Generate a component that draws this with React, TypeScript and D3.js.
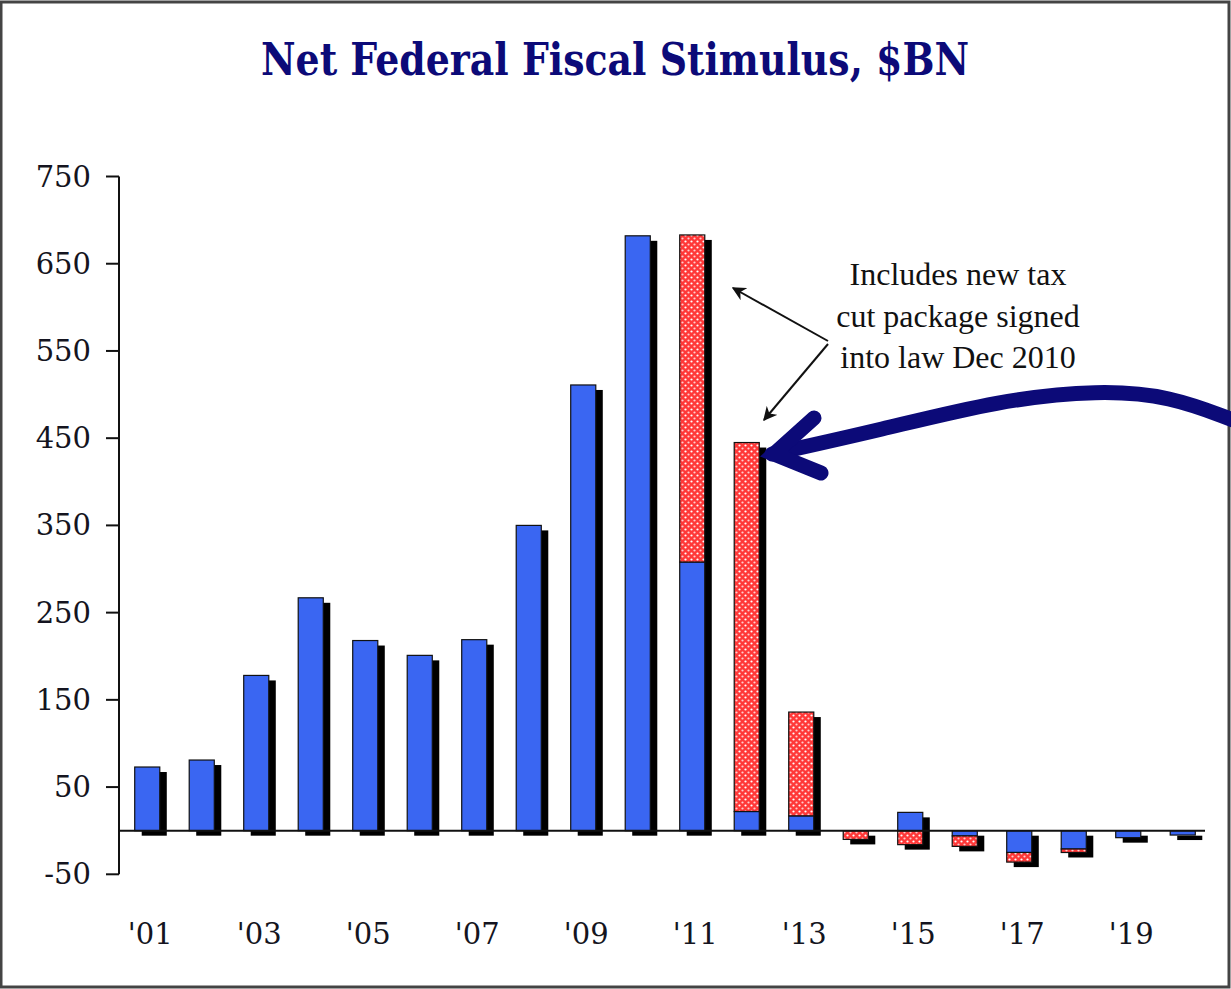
import React from "react";
import * as d3 from "d3";

const years = ["2001","2002","2003","2004","2005","2006","2007","2008","2009","2010","2011","2012","2013","2014","2015","2016","2017","2018","2019","2020"];
const baseStimulus = [73, 81, 178, 267, 218, 201, 219, 350, 511, 682, 308, 22, 17, 0, 21, -6, -25, -21, -8, -5];
const taxCutPackage = [0, 0, 0, 0, 0, 0, 0, 0, 0, 0, 375, 423, 119, -10, -16, -12, -11, -4, 0, 0];
const yTicks = [750, 650, 550, 450, 350, 250, 150, 50, -50];
const xLabelYears = ["2001","2003","2005","2007","2009","2011","2013","2015","2017","2019"];
const title = "Net Federal Fiscal Stimulus, $BN";
const noteLines = ["Includes new tax", "cut package signed", "into law Dec 2010"];

const W = 1231, H = 989;
const BLUE = "#3a66f2";
const RED = "#ff3838";
const NAVY = "#0c0a78";

export default function App() {
  const y = d3.scaleLinear().domain([-50, 750]).range([874.3, 176.5]);
  const x = d3.scaleBand<string>().domain(years).range([120, 1210]).paddingInner(0.54).paddingOuter(0.27);
  const bw = x.bandwidth();
  const sdx = 7, sdy = 5;

  const segs: { key: string; x: number; y0: number; y1: number; red: boolean }[] = [];
  const shadows: { key: string; x: number; top: number; bot: number }[] = [];
  years.forEach((yr, i) => {
    const b = baseStimulus[i];
    const t = taxCutPackage[i];
    let pos = 0, neg = 0;
    const add = (v: number, red: boolean, k: string) => {
      if (v === 0) return;
      if (v > 0) { segs.push({ key: k, x: x(yr)!, y0: pos, y1: pos + v, red }); pos += v; }
      else { segs.push({ key: k, x: x(yr)!, y0: neg, y1: neg + v, red }); neg += v; }
    };
    add(b, false, yr + "b");
    add(t, true, yr + "t");
    shadows.push({ key: yr, x: x(yr)!, top: pos, bot: neg });
  });

  const bigCurve = d3.line<[number, number]>().curve(d3.curveBasis)([
    [1233, 420], [1170, 396], [1100, 390], [1000, 400], [880, 430], [772, 454],
  ]) as string;

  return (
    <svg width={W} height={H} style={{ position: "absolute", left: 0, top: 0, background: "#fff" }}
      fontFamily="'DejaVu Serif', serif">
      <defs>
        <pattern id="whiteDots" width="6" height="6" patternUnits="userSpaceOnUse">
          <circle cx="1.5" cy="1.5" r="1.1" fill="#ffffff" />
          <circle cx="4.5" cy="4.5" r="1.1" fill="#ffffff" fillOpacity="0.75" />
        </pattern>
        <marker id="thinArrow" viewBox="0 0 10 10" refX="9" refY="5" markerWidth="7" markerHeight="7" orient="auto-start-reverse" markerUnits="strokeWidth">
          <path d="M0,0 L10,5 L0,10 L3,5 Z" fill="#111" />
        </marker>
      </defs>
      <rect x={1} y={2} width={W - 3} height={H - 4} fill="#fff" stroke="#444" strokeWidth={3} />

      <text x={615} y={75} textAnchor="middle" fontSize={44} fontWeight="bold" fill={NAVY}
        textLength={708} lengthAdjust="spacingAndGlyphs">{title}</text>

      {/* y axis */}
      <line x1={119} x2={119} y1={y(750)} y2={y(-50)} stroke="#111" strokeWidth={2} />
      {yTicks.map((t) => (
        <g key={t}>
          <line x1={106} x2={119} y1={y(t)} y2={y(t)} stroke="#111" strokeWidth={2} />
          <text x={91} y={y(t) + 10} textAnchor="end" fontSize={29} fill="#141420">{t}</text>
        </g>
      ))}

      {/* shadows */}
      {shadows.map((s) => (
        <rect key={s.key} x={s.x + sdx} y={y(s.top) + sdy} width={bw} height={y(s.bot) - y(s.top)} fill="#000" />
      ))}

      {/* bars */}
      {segs.map((s) => {
        const ry = y(Math.max(s.y0, s.y1));
        const rh = Math.abs(y(s.y0) - y(s.y1));
        return (
          <g key={s.key}>
            <rect x={s.x} y={ry} width={bw} height={rh} fill={s.red ? RED : BLUE} />
            {s.red && <rect x={s.x} y={ry} width={bw} height={rh} fill="url(#whiteDots)" />}
            <rect x={s.x} y={ry} width={bw} height={rh} fill="none" stroke="#111" strokeWidth={1.2} />
          </g>
        );
      })}

      {/* zero line */}
      <line x1={119} x2={1205} y1={y(0)} y2={y(0)} stroke="#111" strokeWidth={2} />

      {/* x labels */}
      {xLabelYears.map((yr) => (
        <text key={yr} x={x(yr)! + bw / 2 + 3} y={944} textAnchor="middle" fontSize={29} fill="#141420">
          {"'" + yr.slice(2)}
        </text>
      ))}

      {/* annotation */}
      {noteLines.map((l, i) => (
        <text key={i} x={958} y={285 + i * 41.5} textAnchor="middle" fontSize={32}
          fontFamily="'Liberation Serif', serif" fill="#111">{l}</text>
      ))}
      <line x1={828} x2={733} y1={341} y2={288} stroke="#111" strokeWidth={2} markerEnd="url(#thinArrow)" />
      <line x1={828} x2={764} y1={344} y2={420} stroke="#111" strokeWidth={2} markerEnd="url(#thinArrow)" />

      {/* big navy arrow */}
      <path d={bigCurve} fill="none" stroke={NAVY} strokeWidth={15} strokeLinecap="round" />
      <path d="M814,418 L774,454 L821,473" fill="none" stroke={NAVY} strokeWidth={15}
        strokeLinecap="round" strokeLinejoin="miter" />
    </svg>
  );
}
